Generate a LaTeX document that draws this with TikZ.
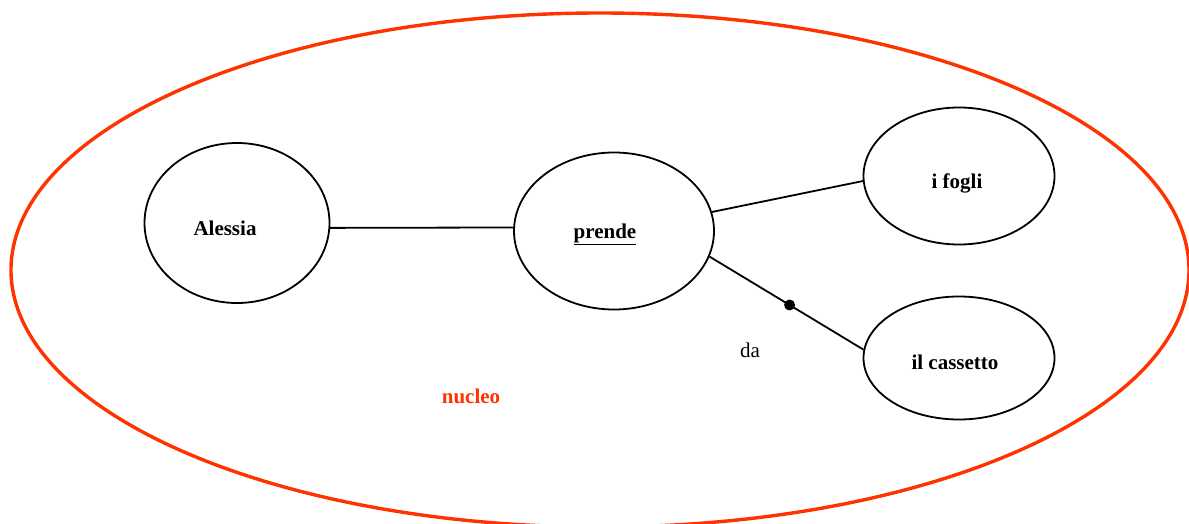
\documentclass[tikz,border=0pt]{standalone}
\usepackage{fontspec}
\setmainfont{Liberation Serif}
\usetikzlibrary{shapes.geometric}
\definecolor{nucleored}{RGB}{255,51,0}
\tikzset{
	word/.style={draw,ellipse,line width=1.8pt,inner sep=0pt},
	wordtext/.style={font=\fontsize{21}{25}\selectfont\bfseries},
	link/.style={line width=1.8pt}
}
\begin{document}
\begin{tikzpicture}[x=1pt,y=-1pt,font=\fontsize{21}{25}\selectfont]
	\clip (0,0) rectangle (1189,524);
	\draw[nucleored,line width=3.4pt] (600,270) ellipse [x radius=589,y radius=257];
	
	\node[word,minimum width=185,minimum height=160,label={[wordtext,xshift=-12pt,yshift=-5pt]center:Alessia}] (alessia) at (237,223) {};
	\node[word,minimum width=200,minimum height=157,label={[wordtext,xshift=-9pt,yshift=-3pt]center:\underline{prende}}] (prende) at (614,231) {};
	\node[word,minimum width=191,minimum height=137,label={[wordtext,xshift=-2pt,yshift=-7pt]center:i fogli}] (fogli) at (959,176) {};
	\node[word,minimum width=191,minimum height=123,label={[wordtext,xshift=-4pt,yshift=-4pt]center:il cassetto}] (cassetto) at (959,358) {};
	
	\draw[link] (alessia.-3) -- (prende.178);
	\draw[link] (prende.11) -- (fogli.183);
	\draw[link] (prende.-15) -- coordinate[pos=0.52] (prep) (cassetto.175);
	\fill (prep) circle (5.5);
	
	\node (da) at (750,350) {da};
	\node[text=nucleored,wordtext] (nucleo) at (471,396) {nucleo};
\end{tikzpicture}
\end{document}
